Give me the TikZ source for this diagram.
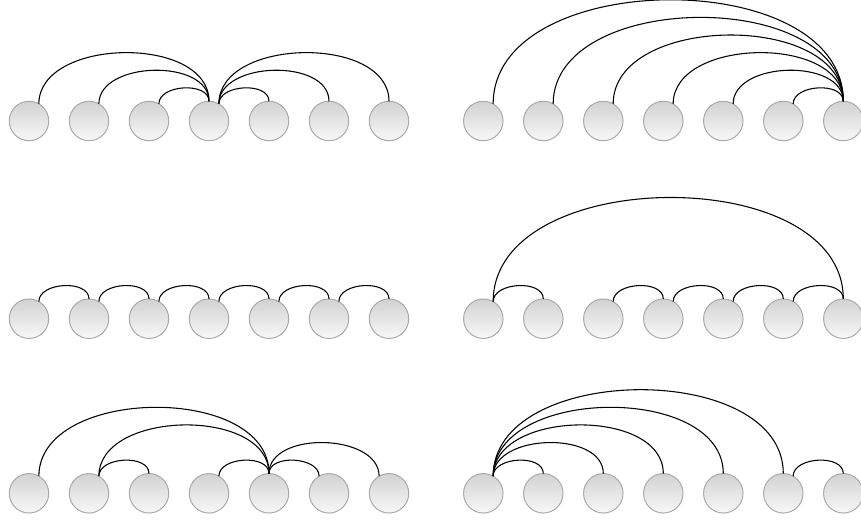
\documentclass[tikz,border=0pt]{standalone}
\begin{document}
\begin{tikzpicture}[x=0.75pt,y=-0.75pt,
  ball/.style={circle, draw={rgb,255:red,170;green,170;blue,170}, line width=0.75pt,
    top color={rgb,255:red,210;green,210;blue,210}, bottom color={rgb,255:red,248;green,248;blue,248},
    minimum size=29.6pt, inner sep=0pt, outer sep=0pt},
  link/.style={black, line width=0.8pt, out=90, in=90}]
\useasboundingbox (0,0) rectangle (861,521);
\foreach \i in {1,...,7}{
  \node[ball] (a\i) at ({29+60*(\i-1)},121) {};
  \node[ball] (b\i) at ({483.3+60*(\i-1)},121) {};
  \node[ball] (c\i) at ({29+60*(\i-1)},318.7) {};
  \node[ball] (d\i) at ({483.3+60*(\i-1)},318.7) {};
  \node[ball] (e\i) at ({29+60*(\i-1)},493.3) {};
  \node[ball] (f\i) at ({483.3+60*(\i-1)},493.3) {};
}
% row 1 left
\draw[link] (a1.60) to (a4.north);
\draw[link] (a2.60) to (a4.north);
\draw[link] (a3.60) to (a4.north);
\draw[link] (a4.60) to (a5.north);
\draw[link] (a4.60) to (a6.north);
\draw[link] (a4.60) to (a7.north);
% row 1 right
\foreach \i in {1,...,6}{\draw[link] (b\i.60) to (b7.north);}
% row 2 left
\draw[link] (c1.60) to (c2.north);
\draw[link] (c2.60) to (c3.north);
\draw[link] (c3.60) to (c4.north);
\draw[link] (c4.60) to (c5.north);
\draw[link] (c5.60) to (c6.north);
\draw[link] (c6.60) to (c7.north);
% row 2 right
\draw[link] (d1.60) to (d7.north);
\draw[link] (d1.60) to (d2.north);
\draw[link] (d3.60) to (d4.north);
\draw[link] (d4.60) to (d5.north);
\draw[link] (d5.60) to (d6.north);
\draw[link] (d6.60) to (d7.north);
% row 3 left
\draw[link] (e1.60) to (e5.north);
\draw[link] (e2.60) to (e5.north);
\draw[link] (e2.60) to (e3.north);
\draw[link] (e4.60) to (e5.north);
\draw[link] (e5.north) to (e6.120);
\draw[link] (e5.north) to (e7.120);
% row 3 right
\draw[link] (f1.60) to (f2.north);
\draw[link] (f1.60) to (f3.north);
\draw[link] (f1.60) to (f4.north);
\draw[link] (f1.60) to (f5.north);
\draw[link] (f1.60) to (f6.north);
\draw[link] (f6.60) to (f7.north);
\end{tikzpicture}
\end{document}
